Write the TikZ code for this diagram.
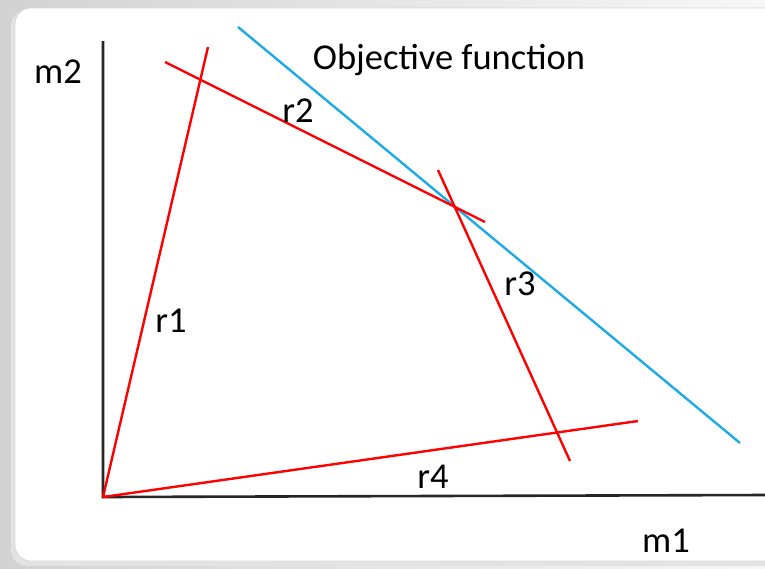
\documentclass[tikz,border=0pt]{standalone}
\usepackage{fontspec}
\setmainfont{Carlito}
\begin{document}
\begin{tikzpicture}[x=1pt,y=-1pt,
  lbl/.style={font=\fontsize{36.5}{40}\selectfont, inner sep=0pt, anchor=center},
  axis/.style={line width=2.6pt, black!85},
  cons/.style={line width=2.4pt, draw=red},
  obj/.style={line width=2.4pt, draw={rgb,255:red,30;green,170;blue,230}}]
\useasboundingbox (0,0) rectangle (765,568);
% background
\shade[left color=gray!35, right color=gray!6] (0,0) rectangle (765,568);
\fill[gray!22, rounded corners=16pt] (11,10) rectangle (800,566);
\fill[white, rounded corners=16pt] (15,8) rectangle (800,561);
\draw[gray!30, line width=0.8pt, rounded corners=16pt] (15,8) rectangle (800,561);
% axes
\coordinate (O) at (103,497);
\coordinate (ytop) at (103,41);
\coordinate (xend) at (765,495);
\draw[axis] (ytop) -- (O) -- (xend);
% constraint lines
\coordinate (r1a) at (208,47);
\coordinate (r2a) at (165,62);
\coordinate (r2b) at (485,222);
\coordinate (r3a) at (438,170);
\coordinate (r3b) at (570,461);
\coordinate (r4b) at (638,421);
\coordinate (obja) at (238,27);
\coordinate (objb) at (740,443);
\draw[obj] (obja) -- (objb);
\draw[cons] (O) -- (r1a);
\draw[cons] (r2a) -- (r2b);
\draw[cons] (r3a) -- (r3b);
\draw[cons] (O) -- (r4b);
% labels
\node[lbl] (m2) at (58,72) {m2};
\node[lbl] (m1) at (666,541) {m1};
\node[lbl] (objl) at (449,60) {Objective function};
\node[lbl] (r1) at (171,321) {r1};
\node[lbl] (r2) at (298,111) {r2};
\node[lbl] (r3) at (520,284) {r3};
\node[lbl] (r4) at (433,477) {r4};
\end{tikzpicture}
\end{document}
